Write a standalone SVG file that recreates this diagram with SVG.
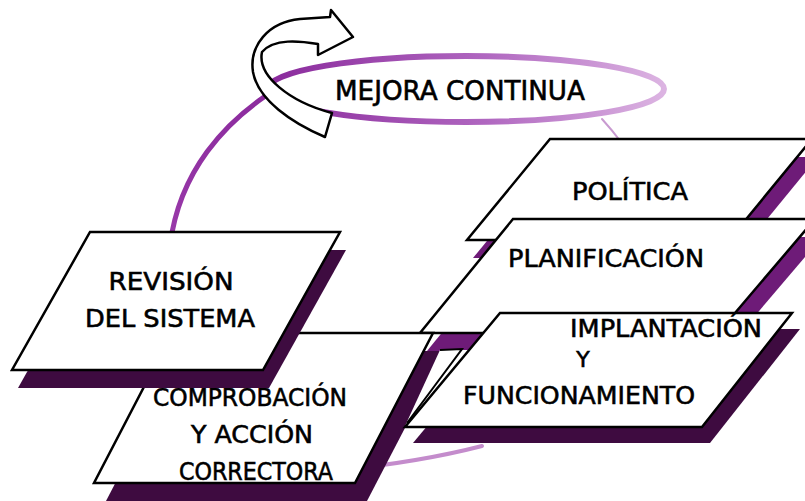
<svg xmlns="http://www.w3.org/2000/svg" width="805" height="501" viewBox="0 0 805 501">
  <defs>
    <linearGradient id="loopGrad" x1="0" y1="0" x2="1" y2="0">
      <stop offset="0" stop-color="#8a2a9c"/>
      <stop offset="0.55" stop-color="#b067c0"/>
      <stop offset="1" stop-color="#dcb4e2"/>
    </linearGradient>
    <linearGradient id="arcGrad" x1="0" y1="1" x2="0" y2="0">
      <stop offset="0" stop-color="#9a3aaa"/>
      <stop offset="1" stop-color="#8c2c9e"/>
    </linearGradient>
  </defs>
  <style>
    .box { fill: #ffffff; stroke: #000000; stroke-width: 2.5; stroke-linejoin: miter; }
    .shLight { fill: #6e1b78; }
    .shDark { fill: #3e0b40; }
    .lbl { font-family: "DejaVu Sans", "Liberation Sans", sans-serif; font-size: 25px; fill: #000000; stroke: #000000; stroke-width: 0.6; text-anchor: middle; }
    .loop { fill: none; stroke-linecap: round; }
  </style>
  <rect width="805" height="501" fill="#ffffff"/>

  <!-- Connectors: the purple "mejora continua" loop -->
  <g id="connectors">
    <path class="loop" d="M 264,97 C 228,122 180,168 170,245" stroke="url(#arcGrad)" stroke-width="5"/>
    <path class="loop" d="M 340,470 Q 420,462 482,446" stroke="#c48ccc" stroke-width="4"/>
    <path class="loop" d="M 602,119 Q 612,130 621,142" stroke="#c89ad0" stroke-width="2"/>
    <ellipse class="loop" cx="466" cy="89" rx="198" ry="33" stroke="url(#loopGrad)" stroke-width="6"/>
  </g>

  <g id="politica">
    <polygon class="shLight" points="550,139 812,139 729,240 467,240" transform="translate(6,18)"/>
    <polygon class="box" points="550,139 812,139 729,240 467,240"/>
    <text class="lbl" x="630" y="200" textLength="116" lengthAdjust="spacingAndGlyphs">POLÍTICA</text>
  </g>

  <g id="planificacion">
    <polygon class="shLight" points="513,219 815,219 718,333 420,333" transform="translate(7,18)"/>
    <polygon class="box" points="513,219 815,219 718,333 420,333"/>
    <text class="lbl" x="606" y="267" textLength="196" lengthAdjust="spacingAndGlyphs">PLANIFICACIÓN</text>
  </g>

  <g id="comprobacion">
    <polygon class="shDark" points="172,333 433,333 355,483 94,483" transform="translate(12,18)"/>
    <polygon class="box" points="172,333 433,333 355,483 94,483"/>
    <text class="lbl" x="250" y="406" textLength="194" lengthAdjust="spacingAndGlyphs">COMPROBACIÓN</text>
    <text class="lbl" x="252" y="443" textLength="122" lengthAdjust="spacingAndGlyphs">Y ACCIÓN</text>
    <text class="lbl" x="256" y="480" textLength="154" lengthAdjust="spacingAndGlyphs">CORRECTORA</text>
  </g>

  <g id="implantacion">
    <polygon class="shDark" points="500,313 792,313 702,427 405,427" transform="translate(8,16)"/>
    <path d="M 440,350 L 476,350 L 409,428 L 405,426 Z" fill="#ffffff"/>
    <polyline points="440,350 462,349 407,423" fill="none" stroke="#000000" stroke-width="2"/>
    <polygon class="box" points="500,313 792,313 702,427 405,427"/>
    <text class="lbl" x="666" y="337" textLength="192" lengthAdjust="spacingAndGlyphs">IMPLANTACIÓN</text>
    <text class="lbl" x="583" y="367" style="font-size:22px">Y</text>
    <text class="lbl" x="579" y="404" textLength="232" lengthAdjust="spacingAndGlyphs">FUNCIONAMIENTO</text>
  </g>

  <g id="revision">
    <polygon class="shDark" points="90,232 340,232 263,370 12,370" transform="translate(6,18)"/>
    <polygon class="box" points="90,232 340,232 263,370 12,370"/>
    <text class="lbl" x="171" y="290" textLength="125" lengthAdjust="spacingAndGlyphs">REVISIÓN</text>
    <text class="lbl" x="170" y="327" textLength="170" lengthAdjust="spacingAndGlyphs">DEL SISTEMA</text>
  </g>

  <g id="mejora">
    <path d="M 325,137 C 292,123 258,100 253,72 C 249,46 268,22 300,19 L 330,17 L 331,10 L 353,37 L 318,55 L 318,44 C 300,41 274,38 262,52 C 257,76 290,102 332,113 Z" fill="#ffffff" stroke="#000000" stroke-width="2.5" stroke-linejoin="round"/>
    <text class="lbl" x="460" y="100" textLength="250" lengthAdjust="spacingAndGlyphs" style="font-size:26px">MEJORA CONTINUA</text>
  </g>
</svg>
